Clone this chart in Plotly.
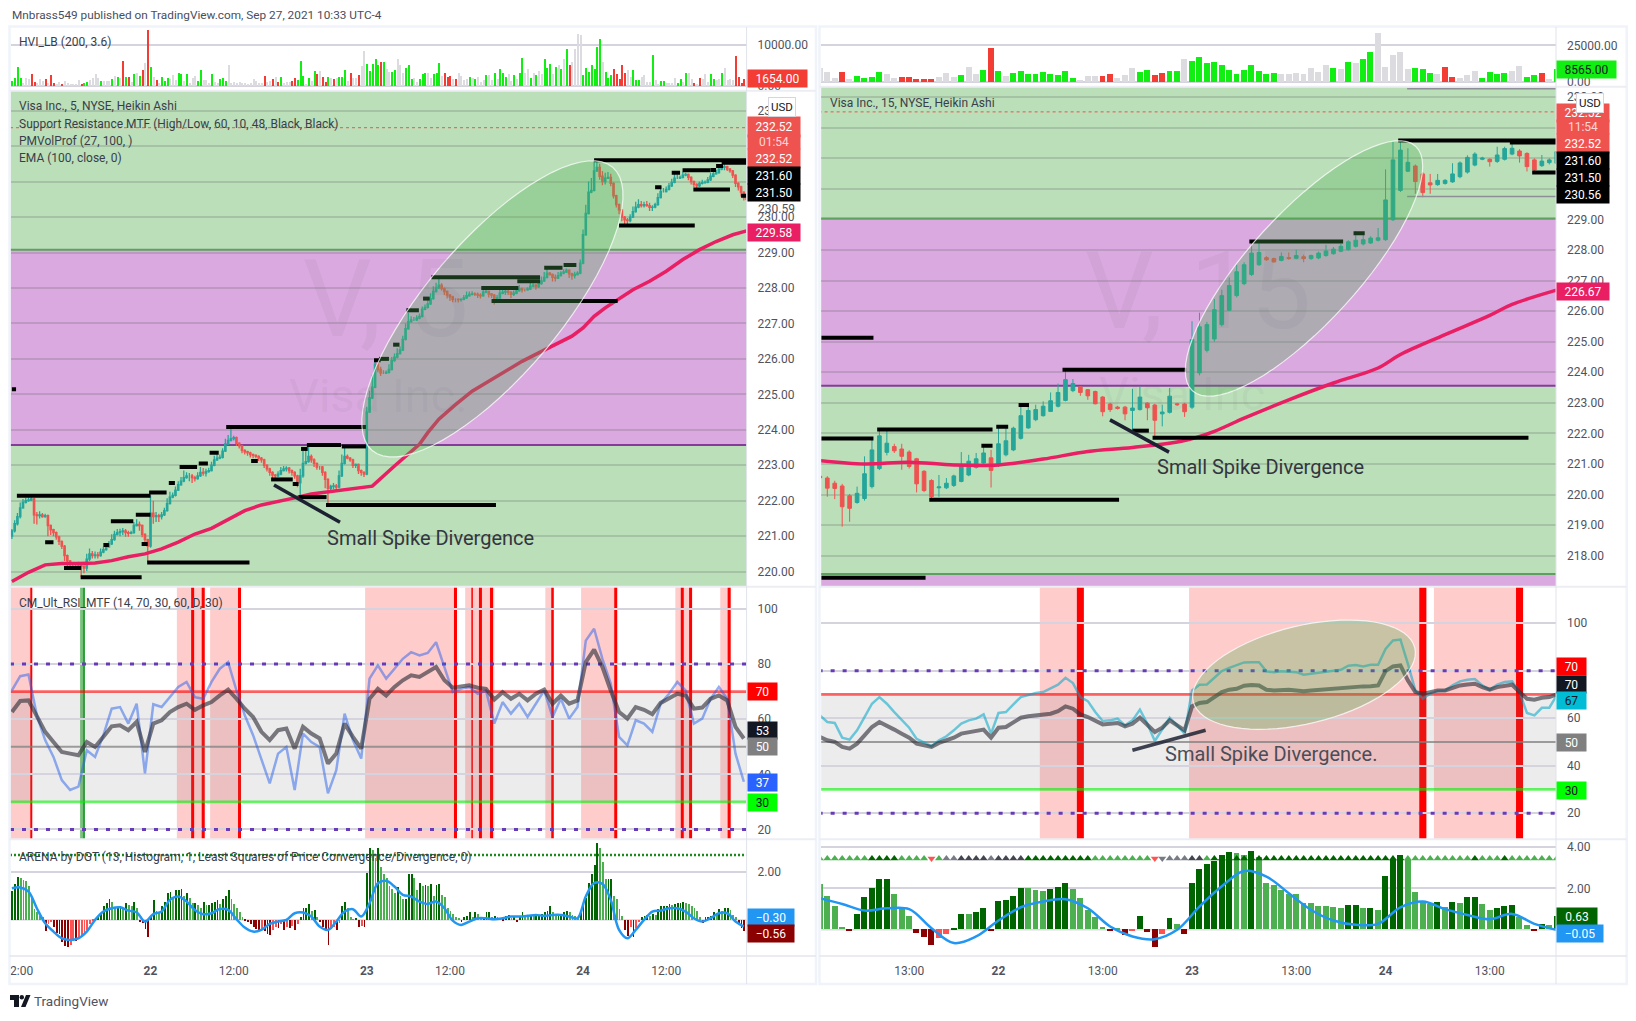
import math
import plotly.graph_objects as go

W, H = 1636, 1021
FONT = "Roboto"
# ---------- left (5 min) ----------
close_l = [221.15,221.35,221.55,221.8,221.95,222.0,222.02,222.05,221.6,221.58,221.6,221.55,221.58,221.3,221.18,221.1,220.98,220.85,220.72,220.45,
220.3,220.2,220.22,220.2,220.18,220.15,220.1,220.35,220.5,220.45,220.47,220.45,220.55,220.62,220.7,220.78,220.9,221.05,221.1,221.13,
221.15,221.1,221.08,221.1,221.3,221.33,221.3,221.05,220.9,220.72,221.65,221.55,221.58,221.55,221.6,221.72,221.92,222.1,222.15,222.3,
222.45,222.55,222.65,222.7,222.7,222.65,222.62,222.7,222.8,222.78,222.82,222.85,223.0,223.15,223.2,223.22,223.4,223.6,223.7,223.75,
223.78,223.62,223.55,223.42,223.38,223.35,223.3,223.28,223.25,223.2,223.15,223.0,222.9,222.8,222.72,222.7,222.75,222.85,222.9,222.92,
222.85,222.8,222.7,222.5,222.7,223.05,223.1,223.25,223.15,223.05,222.95,222.95,222.8,222.6,222.35,222.4,222.42,222.38,222.7,223.05,
223.25,223.2,223.15,223.0,223.02,222.85,222.8,222.75,224.5,224.9,225.2,225.85,225.7,225.6,225.6,225.62,225.7,225.95,226.05,226.15,
226.25,226.55,226.85,227.05,227.1,227.1,227.15,227.2,227.4,227.45,227.55,227.7,227.9,228.0,228.08,227.98,227.9,227.8,227.75,227.68,
227.68,227.67,227.68,227.72,227.78,227.82,227.83,227.82,227.8,227.78,227.88,227.9,227.83,227.8,227.68,227.72,227.85,227.88,227.9,227.88,
227.82,227.85,227.92,227.98,227.95,227.95,227.97,228.05,228.08,228.03,228.12,228.2,228.3,228.42,228.38,228.3,228.28,228.35,228.42,228.45,
228.5,228.4,228.35,228.38,228.42,228.7,229.5,230.1,230.7,230.75,231.3,231.4,231.15,231.0,231.1,231.12,230.95,230.6,230.35,230.2,
230.0,229.92,229.9,230.0,230.15,230.28,230.35,230.32,230.35,230.32,230.27,230.28,230.35,230.55,230.72,230.72,230.78,230.88,230.98,231.1,
231.1,231.12,231.18,231.2,231.12,231.0,230.92,230.88,230.95,230.97,230.98,231.05,231.15,231.22,231.25,231.35,231.4,231.42,231.35,231.3,
231.18,230.95,230.85,230.7,230.55,230.5]
up_wick_l = [5,10,10,15,10,8,8,5,3,8,10,5,5,3,3,3,3,3,3,3,
3,3,5,5,8,5,3,15,15,8,10,8,10,8,8,8,15,10,10,8,
8,5,5,5,10,15,8,3,3,3,50,35,10,5,8,8,15,15,8,10,
10,12,20,10,8,5,5,10,15,12,8,8,10,12,10,8,8,15,15,30,
5,3,3,3,3,3,3,3,3,3,3,3,3,3,3,3,8,10,8,5,
3,3,3,3,20,35,40,30,5,5,3,3,3,3,3,5,8,5,15,25,
30,5,3,3,3,3,3,3,15,20,35,15,10,8,8,5,15,10,10,15,
10,10,15,25,10,8,8,8,8,8,10,15,15,15,25,5,3,3,3,3,
3,3,3,8,12,8,8,5,5,5,15,10,3,3,3,8,12,8,8,5,
3,8,10,10,3,3,5,15,5,3,8,12,15,15,3,3,8,10,5,8,
5,3,3,8,5,10,15,25,30,35,30,20,10,15,15,15,10,3,3,3,
3,3,5,8,15,15,15,10,8,10,8,5,5,12,15,10,8,8,10,12,
10,5,10,5,3,3,3,3,5,8,5,8,10,8,8,10,8,8,3,3,
3,3,3,3,3,3]
dn_wick_l = [8,5,5,5,3,3,3,3,25,25,8,3,3,30,15,10,8,10,8,15,
15,10,8,8,5,30,15,8,5,8,8,8,3,3,3,3,3,3,3,10,
10,12,10,3,3,3,15,8,10,45,5,20,15,15,8,3,3,3,3,3,
3,3,3,3,15,15,8,3,3,8,10,3,3,3,3,3,3,3,3,3,
5,8,8,8,8,8,8,8,5,8,8,8,8,10,8,5,3,3,3,8,
8,10,8,12,36,5,3,3,8,10,8,8,10,25,45,10,8,8,3,3,
3,3,5,8,8,10,10,8,3,3,3,3,8,8,3,3,3,3,3,3,
3,3,3,3,3,3,3,3,3,3,3,3,3,3,3,5,10,10,12,8,
8,8,5,3,3,3,3,5,8,8,3,3,10,8,15,3,3,3,8,8,
10,5,3,3,8,5,3,3,3,8,3,3,3,3,3,12,10,3,3,3,
3,12,12,8,3,3,3,3,3,3,3,3,10,10,8,3,8,8,8,12,
12,12,10,5,3,3,3,5,5,3,10,10,3,3,3,3,3,3,3,3,
3,3,3,3,8,8,8,12,3,3,3,3,3,3,3,3,3,8,5,5,
8,10,10,12,8,5]
vol_reads_l = [15,25,57,25,10,25,20,37,12,8,20,15,20,10,33,8,5,12,5,15,8,5,4,4,18,5,10,12,18,25,37,25,15,15,15,15,20,30,28,25,
77,27,27,12,35,40,30,47,70,170,57,27,18,10,27,15,25,20,32,17,38,35,15,35,10,25,30,15,47,17,17,8,35,12,8,22,25,15,62,10,
12,10,12,8,10,5,8,20,15,10,8,30,12,15,22,28,12,28,10,13,13,15,25,18,77,30,5,25,15,45,35,45,28,12,27,25,20,25,27,27,
47,15,40,25,25,32,60,107,68,45,68,82,65,72,
74,50,42,42,48,83,62,38,53,62,20,23,13,22,35,38,38,25,35,38,71,30,38,26,30,20,22,38,30,18,22,28,25,22,28,12,17,32,32,17,
38,22,50,38,28,35,15,32,20,40,85,38,52,25,38,33,45,35,82,55,67,35,58,65,52,82,112,65,72,112,157,155,32,55,43,65,50,118,142,73,
43,25,32,52,35,22,65,38,47,28,47,17,17,27,32,13,13,95,17,5,16,16,10,10,10,25,10,22,12,38,40,20,8,5,25,20,35,12,35,20,
17,22,38,55,17,20,17,92,28,10,22,47]
vol_colors_l = ("ggggnnnrrn"+"nnrnrrnnrn"+"nnnnnrggnn"+"nngnnngngn"+"rgrngngrnr"+"gnrngggnnn"+"ggngnnnggn"+"nngnngggnn"+"nnnnnnnnnn"+"nrnnrnrgnn"+
"nrrgggngng"+"rnrrgnrngg"+"gnrnnrnngg"+"gggr"+
"gnnggnnngg"+"gnngggnngg"+"gnrrrnrnnn"+"ngngnnngnn"+"gngggnngng"+"gnngngnngg"+"gngngngrnn"+"nngggggggn"+"gggrrrrrnn"+"gggnnnngnn"+"ggnnnnggng"+"nnrnrnnngg"+"nngnnnnrrr"+"rr")
hist_l = [1.2,1.5,1.8,1.75,1.65,1.6,1.4,0.9,0.45,0.3,0.15,0.1,-0.5,-0.2,-0.1,-0.3,-0.55,-0.6,-0.95,-1.1,-1.15,-1.05,-0.9,-0.9,-0.8,-0.75,-0.6,-0.45,-0.2,-0.05,
0.05,0.1,0.25,0.55,0.7,0.85,0.75,0.5,0.5,0.55,0.45,0.7,0.6,0.55,0.75,0.5,-0.1,-0.15,-0.4,-0.72,0.1,0.8,0.35,0.3,0.55,0.75,1.1,1.15,0.95,1.25,
1.25,1.3,1.0,1.1,0.9,0.7,0.7,0.6,0.5,0.75,0.6,0.6,0.7,0.75,0.8,0.65,0.85,1.0,1.25,0.85,0.65,0.5,0.3,0.1,-0.05,-0.1,-0.2,-0.3,-0.4,-0.45,
-0.4,-0.5,-0.6,-0.65,-0.45,-0.3,-0.35,-0.2,-0.45,-0.3,-0.35,-0.25,-0.45,-0.2,0.1,0.5,0.5,0.65,0.35,0.4,0.1,-0.1,-0.3,-0.5,-1.05,-0.4,-0.3,-0.45,-0.15,0.55,
0.75,0.5,0.1,0.02,0.05,-0.3,-0.25,-0.3,1.95,3.0,2.9,2.6,3.0,2.2,1.9,1.75,1.4,1.3,1.1,1.35,1.0,0.85,0.85,1.9,1.9,1.75,1.25,1.55,1.4,1.45,1.4,1.5,1.0,1.45,
1.5,1.05,0.95,0.5,0.35,0.25,0.1,0.05,-0.1,0.1,0.15,0.3,0.1,0.3,0.25,0.1,0.1,0.3,0.3,0.1,0.15,0.1,0.05,-0.05,0.15,0.2,0.05,0.1,-0.1,0.1,0.3,0.2,0.15,0.2,
0.15,0.15,0.2,0.25,0.3,0.35,0.55,0.3,0.2,0.2,0.25,0.3,0.35,0.3,0.2,0.15,0.1,0.3,0.55,0.9,1.55,1.9,2.3,3.2,3.0,2.4,1.7,1.7,1.7,1.0,0.85,0.45,0.15,-0.45,-0.7,-0.3,
-0.75,-0.35,-0.1,0.1,0.15,0.2,0.15,0.25,0.2,0.45,0.55,0.55,0.55,0.65,0.6,0.65,0.7,0.7,0.75,0.7,0.65,0.55,0.5,0.35,0.1,-0.15,0.1,0.1,0.15,0.3,0.25,0.45,0.35,0.5,
0.5,0.4,0.2,0.1,-0.15,-0.35,-0.5,-0.6,-0.56]
step_x_l = list(range(0, 267, 3))
rsi_fast_l = [70.4,75.6,76.2,61.4,52.4,46.3,37.9,34.3,35.5,48.7,46.3,54.2,63.8,64.4,58.4,65.6,40.3,65.4,64.4,68,71.7,73.5,68,67.4,73.5,78.3,80.7,70.4,61.4,54.2,45.1,36.7,47.5,49.9,34.3,54.8,51.7,49.9,33.1,41.5,62,52.4,45.7,74.7,79.5,74.7,78.3,81.9,84.3,83.1,84,87.9,78.9,69.8,71,71.7,69.2,70.4,58.4,66.2,62,65.6,60.8,65.6,70.4,60.8,67.4,60.2,64.4,88.5,92.8,81.9,72.9,53.6,50.5,59.6,58.4,55.4,65.6,69.2,73.5,70.4,58.4,60.2,67.4,71.7,67.4,47.5,37.3]
rsi_slow_l = [62.6,66.6,66.8,60.8,55.4,51.7,48.1,47.5,46.9,51.7,49.9,53.6,57.4,57.8,56,59,48.1,58.4,59.6,62.6,64.4,65.6,63.4,65,66.2,68.6,70.7,67.4,63.8,60.8,55.4,52.4,56,56.6,49.3,57.2,54.8,53,43.9,47.5,58.4,53.6,49.3,67.4,71,68.6,71.7,74.1,75.9,75.3,77.1,78.9,74.1,71.4,71.9,72.3,71.4,71,67.1,69.8,67.4,69.2,66.8,69.2,70.7,65.6,68.6,65.6,66.8,80.7,85.2,78.9,70.4,62.6,60.2,64.4,63.4,61.8,65.9,67.4,69.2,68.6,63.8,64.2,67.4,68.6,66.8,57.2,53]
signal_l = [1.33,1.36,1.19,.49,-.14,-.49,-.77,-.84,-.77,-.49,0,.35,.49,.53,.39,.32,-.07,.24,.35,.84,.98,.77,.42,.24,.28,.46,.42,.03,-.32,-.49,-.42,-.17,-.07,0,.28,.31,.14,-.28,-.42,-.07,.35,.45,.14,.7,1.54,1.64,1.4,1.05,.98,.77,.67,.77,.49,-.03,-.21,-.07,.07,.07,.03,.07,.14,.14,.17,.21,.17,.21,.21,.14,.07,.98,1.54,1.51,.84,-.42,-.77,-.42,0,.35,.39,.49,.49,.35,.07,-.07,.07,.28,.28,-.07,-.28]
ema_x_l = [0,6,12,18,24,30,36,42,48,54,60,66,72,78,84,90,96,102,108,114,120,126,130,138,147,150,154,160,166,172,178,184,190,196,202,206,210,214,218,224,230,236,242,248,254,260,265]
ema_l = [219.72,219.98,220.19,220.23,220.23,220.24,220.31,220.42,220.5,220.64,220.83,221.06,221.22,221.48,221.72,221.88,221.97,222.08,222.19,222.25,222.33,222.38,222.41,222.98,223.59,223.92,224.3,224.71,225.09,225.37,225.65,225.93,226.17,226.4,226.64,226.87,227.2,227.44,227.65,227.95,228.19,228.47,228.8,229.08,229.31,229.5,229.61]
sr_x0_l = [1.8,12,18.8,24.8,33,35.7,44.7,46.8,48.8,49.5,56.6,60.5,67.4,71.3,77.3,86.3,93.5,101.3,103.4,104.3,106.4,113.3,119,130.6,132.4,137.5,142.3,148.3,151.3,169.3,173,182.3,192,199,210,219,232,238,241.9,245.8,252,254,256,263,0]
sr_x1_l = [50,15,25,46.8,35,43.8,50,49,85.7,55.8,58.8,66.8,70.7,74.6,127.7,88.7,101.3,103.4,113.5,106.7,118.7,174.6,127.7,133,136,139.8,146.8,150.7,190.5,182.7,218.5,190.5,198.6,203.6,265.5,246.3,234.3,241,252,259,254,256.5,265.5,265.5,1.5]
sr_y_l = [222.14,220.83,220.1,219.84,220.75,221.42,221.6,220.78,220.26,222.23,222.5,222.95,223.05,223.35,224.08,223.12,222.6,222.47,222.1,223.46,223.57,221.88,223.53,225.96,226.0,226.4,227.37,227.7,228.3,228.0,227.63,228.19,228.57,228.65,231.6,229.76,230.84,231.25,231.32,230.78,231.33,231.44,231.53,230.6,225.14]
zones_l = [(-1,7),(59.5,69.7),(71.5,82.5),(127.4,160.4),(163.5,174),(192.4,195.4),(205.3,218),(239.3,245.3),(255.5,259.4)]
red_lines_l = [7,65.2,69,82.1,160,166,169,173,195,217.8,241.8,244.8,258.7]
red_widths_l = [2,3,3,3,3,1.5,3,3,2.5,3,3,3,3]
tick_x_l = [3.5,50,80,128,158,206,236]
tick_t_l = ["2:00","<b>22</b>","12:00","<b>23</b>","12:00","<b>24</b>","12:00"]

# ---------- right (15 min) ----------
open_r = [220.6,220.54,220.37,220.28,219.96,219.74,219.87,220.26,220.85,221.38,221.57,221.49,221.39,221.17,220.76,220.46,220.22,220.22,220.3,220.43,220.64,220.89,221.03,221.2,220.96,221.3,221.46,221.84,222.18,222.45,222.58,222.72,222.89,223.08,223.4,223.52,223.43,223.37,223.19,222.96,222.86,222.86,222.75,222.78,222.99,222.93,222.64,222.69,222.97,222.96,222.86,223.98,224.72,225.09,225.56,226.03,226.51,226.9,227.2,227.52,227.75,227.72,227.66,227.75,227.73,227.78,227.72,227.74,227.82,227.88,227.96,228.01,228.12,228.2,228.23,228.32,228.34,228.99,229.95,230.58,230.75,230.49,230.2,230.14,230.18,230.23,230.4,230.55,230.78,230.97,230.97,230.9,230.97,231.14,231.24,231.16,230.95,230.76,230.86,230.84]
close_r = [220.55,220.21,220.2,219.6,219.55,220.04,220.68,221.46,221.92,221.68,221.43,221.25,220.92,220.35,220.13,219.93,220.25,220.37,220.61,220.94,221.09,221.17,221.36,220.79,221.66,221.76,222.17,222.58,222.75,222.78,222.89,223.07,223.34,223.76,223.63,223.34,223.23,222.97,222.71,222.78,222.82,222.64,222.83,223.19,222.84,222.43,222.7,223.22,222.94,222.71,225.07,225.49,225.56,226.05,226.51,226.84,227.29,227.52,227.9,227.92,227.68,227.61,227.79,227.73,227.82,227.72,227.82,227.9,227.97,228.03,228.12,228.27,228.32,228.34,228.39,228.4,229.64,230.95,231.27,230.87,230.24,229.88,230.13,230.28,230.28,230.49,230.85,231.03,231.14,231.01,230.89,231.11,231.32,231.33,231.08,230.73,230.62,230.91,230.95,231.22]
high_r = [220.7,220.6,220.45,220.35,220.02,220.26,221.25,221.79,222.12,222.12,221.66,221.66,221.45,221.2,220.8,220.5,220.64,220.54,220.65,221.39,221.3,221.36,221.63,221.46,222.17,222.17,222.22,222.89,222.94,222.94,223.05,223.34,223.63,224.05,223.78,223.55,223.45,223.4,223.22,223.0,222.9,222.9,223.46,223.54,223.02,222.97,222.94,223.49,223.0,223.0,225.67,225.95,225.65,226.4,226.7,227.1,227.52,227.6,228.26,228.25,227.8,227.75,227.92,227.92,228.01,227.85,227.85,227.95,228.17,228.1,228.2,228.32,228.61,228.59,228.45,228.72,230.64,231.54,231.54,231.33,230.8,230.55,230.49,230.49,230.32,230.84,230.9,231.1,231.2,231.05,231.0,231.38,231.38,231.47,231.3,231.2,231.0,231.11,231.0,231.3]
low_r = [220.5,219.93,219.85,218.95,219.11,219.7,219.8,220.2,220.8,221.28,221.36,220.81,220.85,220.07,220.08,219.8,219.93,220.18,220.25,220.4,220.6,220.85,221.0,220.23,220.9,221.25,221.42,221.8,222.15,222.4,222.55,222.7,222.85,223.05,223.35,223.23,223.1,222.95,222.56,222.7,222.78,222.43,222.07,222.75,222.43,221.85,222.23,222.65,222.9,222.54,222.8,223.9,224.65,225.0,225.5,226.0,226.45,226.85,227.15,227.48,227.65,227.6,227.63,227.68,227.7,227.6,227.68,227.7,227.78,227.85,227.93,227.98,228.08,228.15,228.2,228.28,228.3,228.95,229.9,230.55,229.84,229.73,229.84,230.1,230.14,230.2,230.35,230.5,230.74,230.94,230.73,230.85,230.93,231.1,230.86,230.57,230.51,230.72,230.8,230.8]
vol_reads_r = [40,30,12,29,8,17,12,14,29,23,12,14,14,8,8,8,14,26,14,20,44,23,35,101,32,17,26,32,23,23,29,23,20,32,11,5,17,17,17,23,11,20,41,29,35,20,26,32,32,68,62,74,56,59,50,35,23,35,50,32,23,26,23,23,26,23,41,29,50,41,38,59,56,68,89,146,44,80,89,38,41,38,26,23,44,14,11,20,32,11,29,23,26,32,47,14,20,26,8,38]
vol_colors_r = "nnnrngggg"+"nnrrrrr"+"nnngn"+"ngr"+"gngggggggg"+"gnnnrrnnn"+"gg"+"rrggng"+"ggggggggggg"+"nnnnnnn"+"gngngg"+"nnnn"+"nggg"+"nrrnnn"+"gggg"+"nnggrngng"
vol_colors_r = (vol_colors_r + "n" * 100)[:100]
hist_r = [2.2,1.6,1.15,.13,-.05,.75,1.57,2.0,2.44,2.44,1.72,1.0,.67,-.16,-.35,-.77,-.4,-.2,.08,.75,.75,.85,1.05,-.03,1.38,1.43,1.62,2.0,2.0,1.91,1.86,1.96,2.05,2.25,1.96,1.53,.95,.58,.13,-.06,.03,-.29,-.06,.66,-.1,-.84,-.22,.56,.27,-.21,2.25,2.92,3.16,3.31,3.6,3.74,3.69,3.6,3.79,3.5,2.25,2.15,1.91,1.72,1.72,1.29,1.29,1.14,1.14,1.09,1.04,1.19,1.19,1.04,1.04,.95,2.59,3.36,3.6,3.36,1.82,1.38,1.24,1.33,1.09,1.33,1.29,1.57,1.57,1.24,.95,1.04,1.14,1.19,.61,.22,-.03,.27,.22,.63]
hist_colors_r = "llll"+"r"+"ddddd"+"lll"+"rrr"+"ss"+"dd"+"l"+"dd"+"r"+"dddd"+"lll"+"ddd"+"lllll"+"r"+"l"+"r"+"s"+"d"+"rr"+"s"+"d"+"l"+"r"+"dddddd"+"ll"+"d"+"llllllllllll"+"dd"+"l"+"d"+"l"+"ddd"+"llll"+"d"+"l"+"d"+"l"+"dd"+"ll"+"ddd"+"ll"+"r"+"d"+"l"+"d"
tri_codes_r = "lllllll"+"dddd"+"llll"+"r"+"l"+"gg"+"kkkk"+"g"+"kkkk"+"ddddddddd"+"llllllll"+"r"+"v"+"ggg"+"kk"+"l"+"dddddddddddddddddddddddddd"+"lllllllll"+"d"+"lll"+"d"+"lllllll"
signal_x_r = [0,3,6,9,12,15,18,21,24,27,30,33,36,39,42,45,48,51,54,57,60,63,66,69,72,75,78,81,84,87,90,93,96,99]
signal_r = [1.53,1.25,.93,1.04,1.0,.08,-.64,-.32,.45,1.09,1.37,1.48,1.04,.16,-.32,-.45,0,1.12,2.1,2.84,2.57,1.77,.96,.45,.24,.29,1.09,1.37,1.0,.72,.51,.77,.29,0]
rsi_fast_r = [61.2,58.4,58,51.8,51,54.9,60.5,66.1,68.9,66.1,62.6,59.4,56,51.3,49.6,48.2,50.7,52.4,54.9,57.7,59.1,59.8,61.6,53.5,62.2,62.6,65.8,68.9,69.7,70.6,71,72.4,74.1,77,74.8,68.9,67.2,62.6,58.8,59.1,59.8,57,59.1,63.6,57.7,50.4,55.6,60.2,57,53.5,71.7,74.1,74.2,77,79.8,81.2,82.2,83.5,83.6,83.6,79.7,79.3,79.8,79.6,79.4,78.3,78.7,79.3,79.7,80.1,80.4,82.1,82.4,81.8,82.5,82.5,89.2,92.7,93.1,82.9,71.7,68.2,70.3,71.4,71.7,73.8,75.5,76.2,76.5,73.8,72,74.1,75.2,75.5,71,62.2,61.2,64.4,64.4,69.6]
rsi_slow_r = [52.1,50.7,50,47.9,47.2,49.3,52.8,56.3,58.4,56.6,55.2,53.5,51.8,49.3,48.6,47.9,49.6,50.7,51.8,53.5,54.2,54.5,55.2,51.8,56,56.3,58.4,60.2,60.8,61.1,61.2,61.9,63,65,64,61.6,60.5,58.8,57.4,57.7,58,56.6,57.7,60.2,57,54.2,56,59.1,57,54.9,65,66.4,66.8,68.9,71,72,72.4,73.7,74,73.8,72,71.7,72,72,71.7,71.4,71.7,72,72.3,72.4,72.5,73.1,73.2,73.4,73.5,73.8,79.8,81.8,82.2,75.9,71,70.3,71,71.7,71.7,72.7,73.8,74.2,74.5,73.1,72,73.1,73.8,74.1,71,68.2,67.8,68.6,68.9,70]
ema_x_r = [0,6,12,18,24,30,36,42,49,53,57,63,69,75,78,84,90,93,99]
ema_r = [221.11,221.0,221.06,220.97,220.97,221.16,221.41,221.54,221.77,222.07,222.5,223.1,223.65,224.14,224.58,225.23,225.86,226.22,226.69]
sr_x0_r = [0.2,0.2,7.7,0.2,21.7,23.7,14.7,26.7,32.6,42,44.7,57.7,71.7,77.7,92.7,95.7]
sr_x1_r = [7.2,7.2,23.2,14.2,23.2,25.3,40.2,28.1,49.2,44.2,95.2,70.3,73.2,99.5,99.5,99.5]
sr_y_r = [225.13,221.83,222.13,217.28,221.6,222.22,219.83,222.93,224.08,222.09,221.86,228.28,228.55,231.58,231.52,230.54]
sr_gray_x0_r = [78.9,78.9]
sr_gray_x1_r = [99.5,99.5]
sr_gray_y_r = [233.28,229.75]
zones_r = [(29.55,35),(49.6,81.55),(82.5,94.5)]
red_lines_r = [35,81,94]
tick_x_r = [12,24,38,50,64,76,90]
tick_t_r = ["13:00","<b>22</b>","13:00","<b>23</b>","13:00","<b>24</b>","13:00"]

# ---------- styling ----------
TEAL, RED = "#26a69a", "#ef5350"
GREEN_BG, PURPLE_BG = "#bbdfb9", "#d9a9df"
VOL_C = {"g": "#11ee11", "r": "#f23c34", "n": "#dcdce0"}
HIST_C = {"l": "#4caf50", "d": "#006400", "r": "#8b0000", "s": "#ff5252"}
TRI_C = {"l": "#4caf50", "d": "#006400", "g": "#787b86", "k": "#434651", "r": "#ff5252", "v": "#787b86"}
GRID = "#d5d4de"
MGRID = "rgba(90,90,90,0.22)"
TS = 12

def xp(px): return px / W
def yp(py): return 1 - py / H
def xd(a, b): return [a / W, b / W]
def yd(top, bot): return [1 - bot / H, 1 - top / H]

L0, L1, R0, R1 = 10.5, 746.6, 821.2, 1556
range_l = [-0.5, 265]
range_r = [0.18, 98.9]
rows_l = [(27, 91), (91, 588), (588, 841), (841, 958)]
rows_r = [(27, 87), (87, 588), (588, 841), (841, 958)]
yr = [[-1200, 14300], [219.57, 233.56], [16.4, 108], [-1.52, 3.38],
      [-3650, 37700], [216.98, 233.34], [9, 115.3], [-1.27, 4.37]]
yticks = [[10000, 0], list(range(220, 234)), [20, 40, 60, 80, 100], [2],
          [25000, 0], list(range(218, 234)), [20, 40, 60, 80, 100], [4, 2]]
yfmt = [".2f", ".2f", "d", ".2f", ".2f", ".2f", "d", ".2f"]

fig = go.Figure()
layout = dict(width=W, height=H, margin=dict(l=0, r=0, t=0, b=0), paper_bgcolor="white", plot_bgcolor="rgba(0,0,0,0)",
              showlegend=False, hovermode=False, bargap=0, barmode="overlay", font=dict(family=FONT, size=TS, color="#131722"))
for n in range(8):
    k = "" if n == 0 else str(n + 1)
    left = n < 4
    top, bot = (rows_l if left else rows_r)[n % 4]
    last = n % 4 == 3
    tv, tt = (tick_x_l, tick_t_l) if left else (tick_x_r, tick_t_r)
    layout["xaxis" + k] = dict(domain=xd(L0, L1) if left else xd(R0, R1), range=range_l if left else range_r,
                               anchor="y" + k, showgrid=False, zeroline=False, showline=False, rangeslider=dict(visible=False),
                               showticklabels=last, tickmode="array", tickvals=tv if last else [], ticktext=tt if last else [],
                               ticks="", ticklabelstandoff=6, tickfont=dict(size=TS, color="#50535e", family=FONT))
    layout["yaxis" + k] = dict(domain=yd(top, bot), range=yr[n], anchor="x" + k, side="right", showline=False, zeroline=False,
                               showgrid=True, gridcolor=MGRID if n % 4 == 1 else GRID, gridwidth=1.5,
                               tickmode="array", tickvals=yticks[n], tickformat=yfmt[n], ticks="", ticklabelstandoff=10,
                               tickfont=dict(size=TS, color="#50535e", family=FONT))

def ax(n):
    return ("x" if n == 0 else f"x{n+1}"), ("y" if n == 0 else f"y{n+1}")

def sr_trace(x0, x1, y, n, color="black", width=4):
    xs, ys = [], []
    for a, b, v in zip(x0, x1, y):
        xs += [a, b, None]; ys += [v, v, None]
    xa, ya = ax(n)
    return go.Scatter(x=xs, y=ys, mode="lines", line=dict(color=color, width=width), xaxis=xa, yaxis=ya)

def candle(x, o, h, l, c, n, lw=1):
    xa, ya = ax(n)
    return go.Candlestick(x=x, open=o, high=h, low=l, close=c, xaxis=xa, yaxis=ya, whiskerwidth=0,
                          increasing=dict(line=dict(color=TEAL, width=lw), fillcolor=TEAL),
                          decreasing=dict(line=dict(color=RED, width=lw), fillcolor=RED))

def line(x, y, n, color, width, shape="linear"):
    xa, ya = ax(n)
    return go.Scatter(x=x, y=y, mode="lines", line=dict(color=color, width=width, shape=shape), xaxis=xa, yaxis=ya)

def bars(x, y, colors, width, n):
    xa, ya = ax(n)
    return go.Bar(x=x, y=y, width=width, marker=dict(color=colors, line=dict(width=0)), xaxis=xa, yaxis=ya)

# ---- left traces
xl = list(range(len(close_l)))
open_l = [221.0] + close_l[:-1]
high_l = [max(o, c) + u / 100 for o, c, u in zip(open_l, close_l, up_wick_l)]
low_l = [min(o, c) - d / 100 for o, c, d in zip(open_l, close_l, dn_wick_l)]
vc_l = (vol_colors_l + "n" * 300)[:len(vol_reads_l)]
fig.add_trace(bars(list(range(len(vol_reads_l))), [v * 80 for v in vol_reads_l], [VOL_C[c] for c in vc_l], 0.4, 0))
fig.add_trace(candle(xl, open_l, high_l, low_l, close_l, 1, 1.3))
fig.add_trace(line(ema_x_l, ema_l, 1, "#e91e63", 3.5))
fig.add_trace(sr_trace(sr_x0_l, sr_x1_l, sr_y_l, 1))
fig.add_trace(line(step_x_l, rsi_fast_l, 2, "rgba(41,98,235,0.5)", 2.5))
fig.add_trace(line(step_x_l, rsi_slow_l, 2, "rgba(45,45,55,0.62)", 4))
hcol_l = []
for i, v in enumerate(hist_l):
    prev = hist_l[i - 1] if i else 0
    hcol_l.append(("#006400" if v >= prev else "#4caf50") if v >= 0 else ("#8b0000" if v <= prev else "#ff5252"))
fig.add_trace(bars(list(range(len(hist_l))), hist_l, hcol_l, 0.3, 3))
fig.add_trace(line(step_x_l, signal_l, 3, "#2196f3", 2.5, "spline"))

# ---- right traces
xr = list(range(len(close_r)))
fig.add_trace(bars(xr, [v * 229 for v in vol_reads_r], [VOL_C[c] for c in vol_colors_r], 0.8, 4))
fig.add_trace(candle(xr, open_r, high_r, low_r, close_r, 5))
fig.add_trace(line(ema_x_r, ema_r, 5, "#e91e63", 3.5, "spline"))
fig.add_trace(sr_trace(sr_x0_r, sr_x1_r, sr_y_r, 5))
fig.add_trace(sr_trace(sr_gray_x0_r, sr_gray_x1_r, sr_gray_y_r, 5, "#8e8e96", 1.5))
fig.add_trace(line(xr, rsi_fast_r, 6, "rgba(0,165,200,0.55)", 2.5))
fig.add_trace(line(xr, rsi_slow_r, 6, "rgba(45,45,55,0.62)", 4))
fig.add_trace(bars(xr, hist_r, [HIST_C[c] for c in hist_colors_r], 0.8, 7))
fig.add_trace(line(signal_x_r, signal_r, 7, "#2196f3", 2.5, "spline"))
xa, ya = ax(7)
fig.add_trace(go.Scatter(x=xr, y=[3.44] * len(xr), mode="markers", xaxis=xa, yaxis=ya,
                         marker=dict(size=7, line=dict(width=0), color=[TRI_C[c] for c in tri_codes_r],
                                     symbol=["triangle-down" if c in "rv" else "triangle-up" for c in tri_codes_r])))

# ---- shapes
shapes = []
def data_rect(n, x0, x1, y0, y1, fill, layer="below"):
    xa, ya = ax(n)
    shapes.append(dict(type="rect", xref=xa, yref=ya, x0=x0, x1=x1, y0=y0, y1=y1, fillcolor=fill, line=dict(width=0), layer=layer))
def hline(n, y, color, width, dash="solid", layer="between"):
    xa, ya = ax(n)
    shapes.append(dict(type="line", xref=xa, yref=ya, x0=-5, x1=270, y0=y, y1=y, line=dict(color=color, width=width, dash=dash), layer=layer))
def vline(n, x, color, width, layer="below"):
    xa, ya = ax(n)
    shapes.append(dict(type="line", xref=xa, yref=ya, x0=x, x1=x, y0=-50, y1=150, line=dict(color=color, width=width), layer=layer))
def px_path(path, fill=None, lc=None, lw=0, layer="above"):
    shapes.append(dict(type="path", xref="paper", yref="paper", path=path, fillcolor=fill or "rgba(0,0,0,0)",
                       line=dict(color=lc or "rgba(0,0,0,0)", width=lw), layer=layer))
def px_line(x0, y0, x1, y1, color, width, layer="above"):
    shapes.append(dict(type="line", xref="paper", yref="paper", x0=xp(x0), x1=xp(x1), y0=yp(y0), y1=yp(y1), line=dict(color=color, width=width), layer=layer))
def ellipse(cx, cy, a, b, deg):
    t = math.radians(deg)
    pts = []
    for s in range(73):
        u = s * math.pi / 36
        x = cx + a * math.cos(u) * math.cos(t) - b * math.sin(u) * math.sin(t)
        y = cy - (a * math.cos(u) * math.sin(t) + b * math.sin(u) * math.cos(t))
        pts.append(f"{xp(x):.5f},{yp(y):.5f}")
    px_path("M" + " L".join(pts) + " Z", "rgba(76,175,80,0.3)", "rgba(255,255,255,0.75)", 1.2)

# main backgrounds
data_rect(1, -5, 270, 229.08, 240, GREEN_BG)
data_rect(1, -5, 270, 223.57, 229.08, PURPLE_BG)
data_rect(1, -5, 270, 210, 223.57, GREEN_BG)
data_rect(5, -5, 110, 229.03, 240, GREEN_BG)
data_rect(5, -5, 110, 223.56, 229.03, PURPLE_BG)
data_rect(5, -5, 110, 217.4, 223.56, GREEN_BG)
data_rect(5, -5, 110, 210, 217.4, PURPLE_BG)
for n, y in [(1, 229.08), (5, 229.03), (5, 217.4)]:
    hline(n, y, "#5f9f5f", 2)
for n, y in [(1, 223.57), (5, 223.56)]:
    hline(n, y, "#843c98", 2)
hline(1, 232.52, "#ef5350", 1, "dot")
hline(5, 232.52, "#ef5350", 1, "dot")

# RSI left
for a, b in zones_l:
    data_rect(2, a, b, -50, 150, "rgba(255,0,0,0.2)")
for x, w in zip(red_lines_l, red_widths_l):
    vline(2, x, "#ff0000", w)
data_rect(2, 24.6, 26.2, -50, 150, "rgba(76,175,80,0.75)")
vline(2, 26, "#2e9e3a", 2)
data_rect(2, -5, 270, 30, 70, "rgba(128,128,128,0.15)")
# RSI right
for a, b in zones_r:
    data_rect(6, a, b, -50, 150, "rgba(255,0,0,0.2)")
for x in red_lines_r:
    vline(6, x, "#ff0000", 7)
data_rect(6, -5, 110, 30, 70, "rgba(128,128,128,0.15)")
for n in (2, 6):
    hline(n, 70, "rgba(255,0,0,0.6)", 2.8)
    hline(n, 50, "rgba(128,128,128,0.75)", 2)
    hline(n, 30, "rgba(0,240,0,0.6)", 2.8)
    for v in (80, 20):
        hline(n, v, "#673ab7", 3, "4px,8px")
# arena row + zero lines
hline(3, 2.72, "#1b8a1b", 2.5, "2px,2px")
hline(3, 0, "#c8c8d0", 1)
hline(7, 0, "#c8c8d0", 1)

# ellipses
ellipse(492.4, 309.5, 186, 67, 49.75)
ellipse(1304, 269, 165.7, 55, 47.7)
ellipse(1304, 676, 114, 49, 13.7)
# hand-drawn strokes
px_line(274, 486, 340, 523.3, "#1c2030", 3.5)
px_line(1110, 420.7, 1169, 453, "#1c2030", 3.5)
px_line(1132.4, 751.7, 1205.6, 731.7, "rgba(30,34,50,0.85)", 3.5)

# frames
FR = "#f0f3fa"
for a, b in [(9.5, 816), (819.5, 1626.7)]:
    shapes.append(dict(type="rect", xref="paper", yref="paper", x0=xp(a), x1=xp(b), y0=yp(986), y1=yp(26.5), fillcolor="rgba(0,0,0,0)", line=dict(color=FR, width=2.5), layer="above"))
for a, b, rows in [(9.5, 816, rows_l), (819.5, 1626.7, rows_r)]:
    for r in rows[:3]:
        px_line(a, r[1], b, r[1], "#eceef4", 2)
    px_line(a, 958, b, 958, "#e4e6ee", 1.5)
px_line(L1, 27, L1, 986, "#e0e3eb", 1)
px_line(R1, 27, R1, 986, "#e0e3eb", 1)
# logo
def P(x, y): return f"{xp(x):.5f},{yp(y):.5f}"
px_path(f"M{P(10,997)} L{P(19,997)} L{P(19,1009)} L{P(14,1009)} L{P(14,1002)} L{P(10,1002)} Z", "#131722")
px_path(f"M{P(26,997)} L{P(30.5,997)} L{P(25.5,1009)} L{P(21,1009)} Z", "#131722")
shapes.append(dict(type="circle", xref="paper", yref="paper", x0=xp(19.6), x1=xp(24), y0=yp(1001.5), y1=yp(997), fillcolor="#131722", line=dict(width=0), layer="above"))

# ---- annotations
anns = []
def text(x, y, s, size=12, color="#3a3e4a", anchor="left", fam=FONT):
    anns.append(dict(xref="paper", yref="paper", x=xp(x), y=yp(y), xanchor=anchor, yanchor="middle", text=s, showarrow=False,
                     font=dict(size=size, color=color, family=fam), borderpad=0))
def lab(x0, yc, w, s, bg, fg="white", h=17):
    anns.append(dict(xref="paper", yref="paper", x=xp(x0), y=yp(yc), xanchor="left", yanchor="middle", width=w, height=h, text=s, showarrow=False,
                     bgcolor=bg, align="center", valign="middle", font=dict(size=TS, color=fg, family=FONT), borderpad=0))

text(10.5, 15, "Mnbrass549 published on TradingView.com, Sep 27, 2021 10:33 UTC-4", 11.8, "#4a4e5a")
text(17.5, 41.7, "HVI_LB (200, 3.6)")
text(17.5, 106.7, "Visa Inc., 5, NYSE, Heikin Ashi")
text(17.5, 124, "Support Resistance MTF (High/Low, 60, 10, 48, Black, Black)")
text(17.5, 141, "PMVolProf (27, 100, )")
text(17.5, 158, "EMA (100, close, 0)")
text(17.5, 604, "CM_Ult_RSI_MTF (14, 70, 30, 60, D, 30)")
text(17.5, 858.5, "ARENA by DGT (13, Histogram, 1, Least Squares of Price Convergence/Divergence, 0)")
text(828.5, 103, "Visa Inc., 15, NYSE, Heikin Ashi")
text(33, 1003, "TradingView", 13.5, "#50535e")
# watermarks
WM = "rgba(110,100,120,0.08)"
text(302, 300, "V, 5", 108, WM)
text(288, 396, "Visa Inc.", 47, WM)
text(1084, 292, "V, 15", 108, WM)
text(1098, 394, "Visa Inc.", 47, WM)
# notes
NOTE = "Small Spike Divergence"
text(326, 539, NOTE, 20, "#33363f")
text(1156, 468, NOTE, 20, "#33363f")
text(1164, 755, NOTE + ".", 20, "#4a4d58")

# price labels left
X = L1
lab(X, 127, 52, "232.52", RED, h=20)
lab(X, 142, 52, "01:54", RED, "#ffd6d6", h=14)
lab(X, 158.5, 52, "232.52", RED, h=19)
lab(X, 176, 52, "231.60", "#000000", h=17)
lab(X, 193, 52, "231.50", "#000000", h=17)
lab(X, 232.6, 52, "229.58", "#e91e63", h=17)
text(X + 10.5, 209.5, "230.59", TS, "#50535e")
lab(X, 78.7, 59, "1654.00", "#f23c34", h=17)
anns.append(dict(xref="paper", yref="paper", x=xp(782), y=yp(107.5), xanchor="center", yanchor="middle", text="USD", showarrow=False, bgcolor="white",
                 bordercolor="#d5d6de", borderwidth=1, borderpad=2, font=dict(size=11.5, color="#131722", family=FONT)))
lab(X, 693.3, 29, "70", "#ff0000")
lab(X, 731.7, 29, "53", "#131722")
lab(X, 748, 29, "50", "#808080")
lab(X, 784.3, 29, "37", "#2962ff")
lab(X, 803.7, 29, "30", "#00ff00", "#131722")
lab(X, 919, 46, "\u22120.30", "#2196f3")
lab(X, 935.7, 46, "\u22120.56", "#8b0000")
# price labels right
X = R1
lab(X, 113, 52, "232.52", RED, h=18)
lab(X, 127, 52, "11:54", RED, "#ffd6d6", h=14)
lab(X, 143.5, 52, "232.52", RED, h=19)
lab(X, 160.7, 52, "231.60", "#000000")
lab(X, 177.7, 52, "231.50", "#000000")
lab(X, 195, 52, "230.56", "#000000")
lab(X, 291.7, 52, "226.67", "#e91e63")
lab(X, 69.7, 59, "8565.00", "#11ee11", "#131722")
anns.append(dict(xref="paper", yref="paper", x=xp(1590), y=yp(103.5), xanchor="center", yanchor="middle", text="USD", showarrow=False, bgcolor="white",
                 bordercolor="#d5d6de", borderwidth=1, borderpad=2, font=dict(size=11.5, color="#131722", family=FONT)))
lab(X, 668.3, 29, "70", "#ff0000")
lab(X, 685.7, 29, "70", "#131722")
lab(X, 702.3, 29, "67", "#00bcd4", "#131722")
lab(X, 743.7, 29, "50", "#808080")
lab(X, 791.7, 29, "30", "#00ff00", "#131722")
lab(X, 918.3, 40, "0.63", "#006400")
lab(X, 935.7, 46, "\u22120.05", "#2196f3")

layout["shapes"] = shapes
layout["annotations"] = anns
fig.update_layout(**layout)
fig.write_html("out.html", config={"displayModeBar": False},
               post_script="document.body.style.margin='0';document.body.style.overflow='hidden';")
